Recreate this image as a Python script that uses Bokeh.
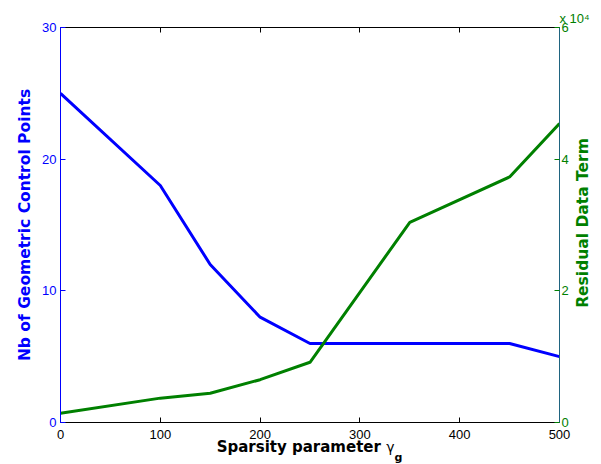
import math
from bokeh.plotting import figure
from bokeh.models import LinearAxis, Range1d, FixedTicker, Title, Div
from bokeh.layouts import column
from bokeh.embed import file_html
from bokeh.resources import INLINE

# ---- data ----
gamma = [0, 100, 150, 200, 250, 350, 450, 500]
control_points = [25, 18, 12, 8, 6, 6, 6, 5]
residual = [1400, 3700, 4450, 6500, 9150, 30400, 37300, 45400]

x_ticks = [0, 100, 200, 300, 400, 500]
left_ticks = [0, 10, 20, 30]
right_ticks = [0, 20000, 40000, 60000]
right_tick_labels = ["0", "2", "4", "6"]

BLUE = "#0000FF"
GREEN = "#008000"
TEAL = "#1f6480"
TICK_FONT = "Liberation Sans"
LABEL_FONT = "DejaVu Sans"

p = figure(width=593, height=446, x_range=Range1d(0, 500), y_range=Range1d(0, 30),
           output_backend="svg", toolbar_location=None,
           x_axis_location=None, y_axis_location=None)
p.extra_y_ranges = {"res": Range1d(0, 60000)}
p.min_border_left = 60
p.min_border_right = 34
p.min_border_top = 27
p.min_border_bottom = 24
p.outline_line_color = None
p.xgrid.visible = False
p.ygrid.visible = False
p.background_fill_color = "white"
p.border_fill_color = "white"


def style(ax, color, line_color=None):
    ax.axis_line_color = line_color or color
    ax.axis_line_width = 1
    ax.major_tick_line_color = color
    ax.major_tick_in = 5
    ax.major_tick_out = 0
    ax.minor_tick_in = 0
    ax.minor_tick_out = 0
    ax.minor_tick_line_color = None
    ax.major_label_text_color = color
    ax.major_label_text_font = TICK_FONT
    ax.major_label_text_font_size = "13px"
    ax.axis_label_text_font = LABEL_FONT
    ax.axis_label_text_font_style = "bold"
    ax.axis_label_text_font_size = "15.5px"
    ax.axis_label_text_color = color


left = LinearAxis(ticker=FixedTicker(ticks=left_ticks), axis_label="Nb of Geometric Control Points")
style(left, BLUE)
left.major_label_standoff = 4
left.axis_label_standoff = 5
p.add_layout(left, "left")

right = LinearAxis(y_range_name="res", ticker=FixedTicker(ticks=right_ticks),
                   major_label_overrides={t: l for t, l in zip(right_ticks, right_tick_labels)})
style(right, GREEN, TEAL)
right.major_label_standoff = 2
p.add_layout(right, "right")

bottom = LinearAxis(ticker=FixedTicker(ticks=x_ticks))
style(bottom, "black")
bottom.major_label_standoff = 7
p.add_layout(bottom, "below")

top = LinearAxis(ticker=FixedTicker(ticks=x_ticks),
                 major_label_overrides={t: "" for t in x_ticks})
style(top, "black")
top.major_label_standoff = 0
p.add_layout(top, "above")

p.add_layout(Title(text="x 10\u2074", align="left", offset=499, standoff=3,
                   text_color=GREEN, text_font=TICK_FONT, text_font_size="13px",
                   text_font_style="normal"), "above")

p.line(gamma, control_points, line_color=BLUE, line_width=3)
p.line(gamma, residual, line_color=GREEN, line_width=3, y_range_name="res")

xlabel = Div(
    text=('<div style="position:relative; top:-6px; width:499px; text-align:center; '
          'font-family:\'DejaVu Sans\'; font-weight:bold; font-size:15px; line-height:15px; '
          'color:black; white-space:nowrap;">Sparsity parameter '
          '<span style="font-weight:normal; font-size:14px;">\u03b3</span>'
          '<span style="font-size:11px; position:relative; top:9px;">g</span></div>'
          '<div style="position:absolute; left:523px; top:-223.5px; '
          'transform:translate(-50%,-50%) rotate(-90deg); white-space:nowrap; '
          'font-family:\'DejaVu Sans\'; font-weight:bold; font-size:15.5px; line-height:16px; '
          'color:#008000;">Residual Data Term</div>'),
    width=499, height=18, margin=(0, 0, 0, 60), styles={"overflow": "visible"})

layout = column(p, xlabel, spacing=0)

open("out.html", "w").write(file_html(layout, INLINE))
